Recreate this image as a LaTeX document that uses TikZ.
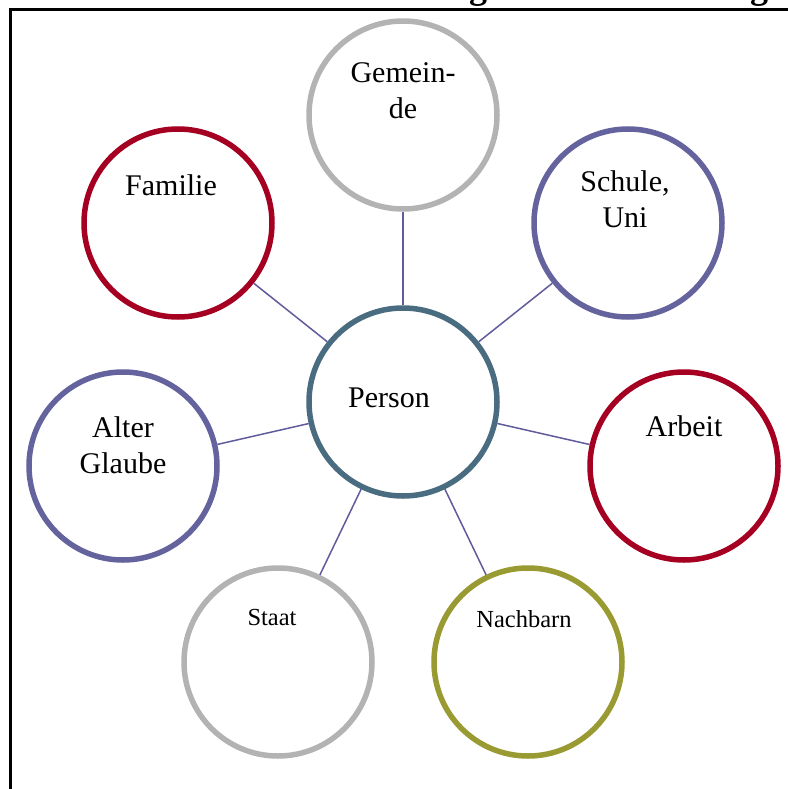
\documentclass[tikz,border=0pt]{standalone}
\usepackage{fontspec}
\setmainfont{Liberation Serif}
\definecolor{cgray}{HTML}{B3B3B3}
\definecolor{cred}{HTML}{A50021}
\definecolor{cpurple}{HTML}{65639E}
\definecolor{cblue}{HTML}{4A6C80}
\definecolor{colive}{HTML}{9A9A32}
\definecolor{cline}{HTML}{605B9B}
\tikzset{
  ring/.style={circle, draw=#1, line width=5.5pt, minimum size=188pt, inner sep=0pt, fill=white},
  lbl/.style={align=center, font=\fontsize{30}{36}\selectfont, inner sep=0pt},
  slbl/.style={align=center, font=\fontsize{24.5}{29}\selectfont, inner sep=0pt},
  conn/.style={draw=cline, line width=1.5pt},
}
\begin{document}
\begin{tikzpicture}[x=1pt,y=-1pt]
\useasboundingbox (0,0) rectangle (787,789);
% border
\coordinate (b1) at (10,800);
\coordinate (b2) at (10,10);
\coordinate (b3) at (800,10);
\draw[line width=3pt] (b1) -- (b2) -- (b3);
% title fragments
\node[anchor=base, inner sep=0pt, font=\fontsize{36}{40}\selectfont\bfseries] (t1) at (478,-1) {g};
\node[anchor=base, inner sep=0pt, font=\fontsize{36}{40}\selectfont\bfseries] (t2) at (759,-1) {g};
% circles
\node[ring=cblue] (p) at (403,402) {};
\node[ring=cgray] (g) at (403,115) {};
\node[ring=cred] (f) at (178,223) {};
\node[ring=cpurple] (s) at (628,223) {};
\node[ring=cpurple] (a) at (123,466) {};
\node[ring=cred] (w) at (684,466) {};
\node[ring=cgray] (st) at (278,662) {};
\node[ring=colive] (n) at (528,662) {};
% connectors
\foreach \o in {g,f,s,a,w,st,n} \draw[conn] (p) -- (\o);
% labels
\node[lbl] (lp) at (389,398) {Person};
\node[lbl] (lg) at (403,91) {Gemein-\\de};
\node[lbl] (lf) at (171,185) {Familie};
\node[lbl] (ls) at (625,199) {Schule,\\Uni};
\node[lbl] (la) at (123,445) {Alter\\Glaube};
\node[lbl] (lw) at (684,426) {Arbeit};
\node[slbl] (lst) at (272,618) {Staat};
\node[slbl] (ln) at (524,619) {Nachbarn};
\end{tikzpicture}
\end{document}
